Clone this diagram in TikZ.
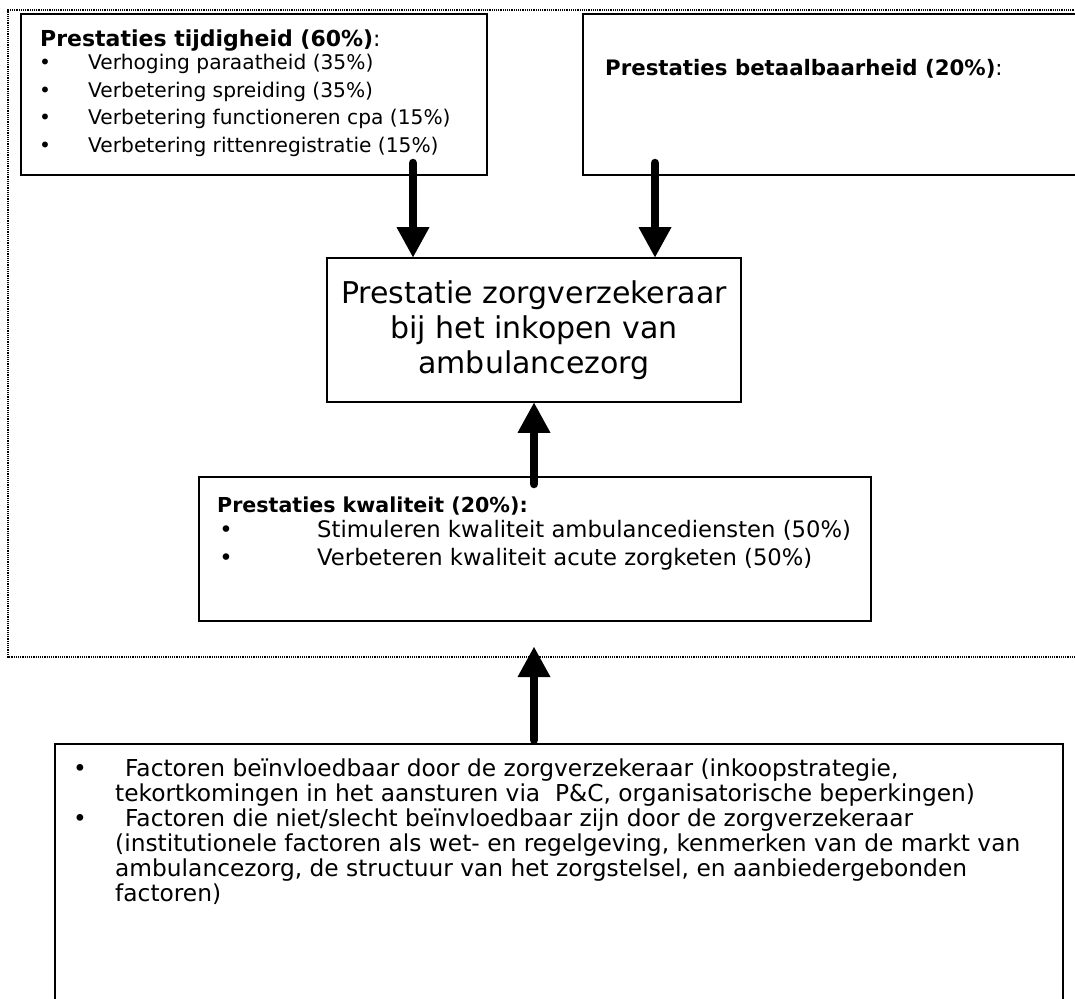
\documentclass[tikz,border=0pt]{standalone}
\usepackage{fontspec}
\setmainfont{DejaVu Sans}
\usetikzlibrary{arrows.meta}
\tikzset{
  box/.style={draw, line width=1.6pt, inner sep=0pt},
  dotframe/.style={line width=1.2pt, dash pattern=on 1.2pt off 1pt},
  bigarrow/.style={line width=8.5pt, line cap=round, -{Triangle[length=30pt,width=33pt,line width=0pt]}},
  txt/.style={anchor=base west, inner sep=0pt},
  bul/.style={anchor=base, inner sep=0pt},
  ttl/.style={font=\fontsize{20.6}{26}\selectfont\bfseries},
  small/.style={font=\fontsize{20.2}{26}\selectfont},
  norm/.style={font=\fontsize{22.7}{26}\selectfont},
  big/.style={font=\fontsize{23.3}{26}\selectfont},
}
\begin{document}
\begin{tikzpicture}[x=1pt,y=-1pt]
\clip (0,0) rectangle (1075,998);
\fill[white] (0,0) rectangle (1075,998);
% dotted frame
\draw[dotframe] (1100,10) -- (8,10) -- (8,657) -- (1100,657);
% boxes
\node[box, anchor=north west, minimum width=466pt, minimum height=161pt] (tijd) at (20,13) {};
\node[box, anchor=north west, minimum width=520pt, minimum height=161pt] (betaal) at (582,13) {};
\node[box, minimum width=414pt, minimum height=144pt, align=center,
      font=\fontsize{30}{35}\selectfont] (prest) at (534,330)
      {Prestatie zorgverzekeraar\\bij het inkopen van\\ambulancezorg};
\node[box, anchor=north west, minimum width=672pt, minimum height=144pt] (kwal) at (198,476) {};
\node[box, anchor=north west, minimum width=1008pt, minimum height=300pt] (fact) at (54,743) {};
% texts box 1
\node[txt, font=\fontsize{22}{26}\selectfont] (t1title) at (40,46) {\textbf{Prestaties tijdigheid (60\%)}:};
\node[bul, small] (b11) at (45,70) {•};
\node[bul, small] (b12) at (45,97) {•};
\node[bul, small] (b13) at (45,124) {•};
\node[bul, small] (b14) at (45,152) {•};
\node[txt, small] (i11) at (88,70) {Verhoging paraatheid (35\%)};
\node[txt, small] (i12) at (88,97) {Verbetering spreiding (35\%)};
\node[txt, small] (i13) at (88,124) {Verbetering functioneren cpa (15\%)};
\node[txt, small] (i14) at (88,152) {Verbetering rittenregistratie (15\%)};
% box 2
\node[txt, font=\fontsize{21.3}{26}\selectfont] (t2title) at (605,75) {\textbf{Prestaties betaalbaarheid (20\%)}:};
% kwaliteit
\node[txt, ttl] (t3title) at (217,512) {Prestaties kwaliteit (20\%):};
\node[bul, norm] (b31) at (226,537) {•};
\node[bul, norm] (b32) at (226,565) {•};
\node[txt, norm] (i31) at (317,537) {Stimuleren kwaliteit ambulancediensten (50\%)};
\node[txt, norm] (i32) at (317,565) {Verbeteren kwaliteit acute zorgketen (50\%)};
% factoren
\node[bul, big] (b41) at (80,776) {•};
\node[bul, big] (b42) at (80,826) {•};
\node[txt, big] (l1) at (125,776) {Factoren beïnvloedbaar door de zorgverzekeraar (inkoopstrategie,};
\node[txt, big] (l2) at (115,801) {tekortkomingen in het aansturen via\ \ P\&C, organisatorische beperkingen)};
\node[txt, big] (l3) at (125,826) {Factoren die niet/slecht beïnvloedbaar zijn door de zorgverzekeraar};
\node[txt, big] (l4) at (115,851) {(institutionele factoren als wet- en regelgeving, kenmerken van de markt van};
\node[txt, big] (l5) at (115,876) {ambulancezorg, de structuur van het zorgstelsel, en aanbiedergebonden};
\node[txt, big] (l6) at (115,901) {factoren)};
% arrows
\coordinate (a1) at (413,163);
\coordinate (a2) at (655,163);
\coordinate (a3) at (534,484);
\coordinate (a4) at (534,740);
\coordinate (f4) at (534,647);
\draw[bigarrow] (a1) -- (a1 |- prest.north);
\draw[bigarrow] (a2) -- (a2 |- prest.north);
\draw[bigarrow] (a3) -- (prest.south);
\draw[bigarrow] (a4) -- (f4);
\end{tikzpicture}
\end{document}
